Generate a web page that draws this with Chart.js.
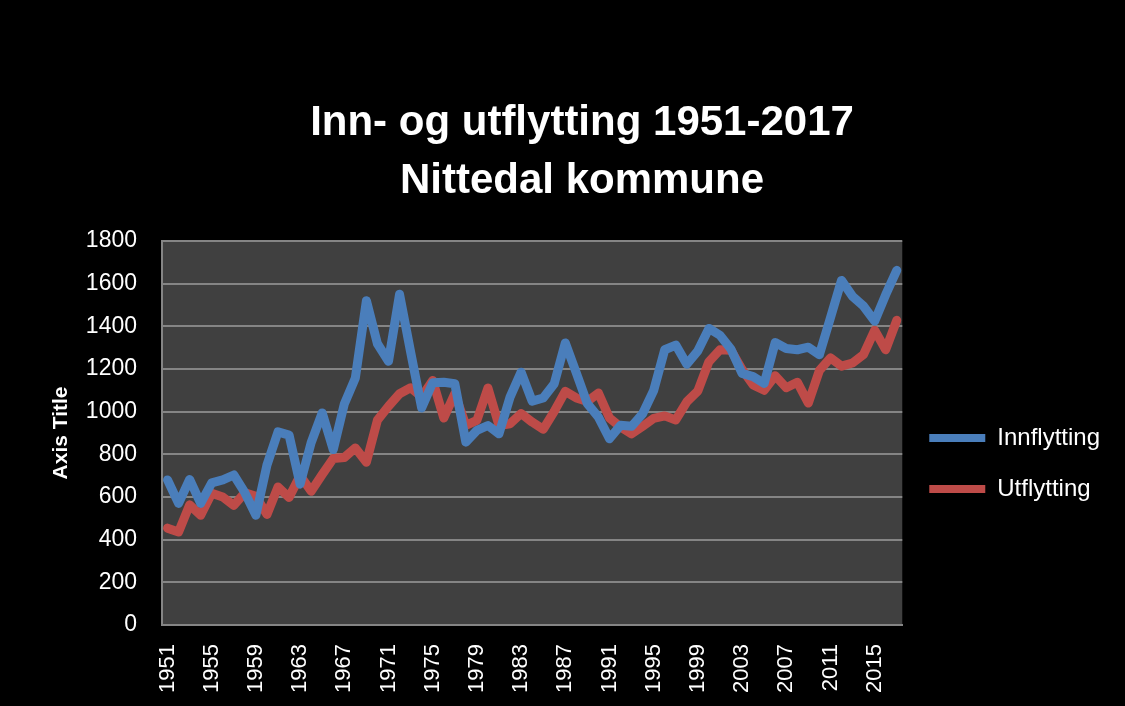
<!DOCTYPE html>
<html>
<head>
<meta charset="utf-8">
<script src="https://cdn.jsdelivr.net/npm/chart.js@4"></script>
<style>
  body { margin: 0; background: #000; }
  #wrap { width: 1125px; height: 706px; }
</style>
</head>
<body>
<div id="wrap"><canvas id="chart"></canvas></div>
<script>
const years = [];
for (let y = 1951; y <= 2017; y++) years.push(String(y));

const tickYears = ["1951", "1955", "1959", "1963", "1967", "1971", "1975", "1979", "1983",
  "1987", "1991", "1995", "1999", "2003", "2007", "2011", "2015"];

const innflytting = [680, 570, 682, 570, 666, 680, 703, 620, 514, 750,
  905, 890, 660, 855, 994, 822, 1036, 1158, 1520, 1318,
  1236, 1550, 1280, 1017, 1135, 1138, 1131, 857, 912, 935,
  896, 1068, 1185, 1049, 1064, 1131, 1322, 1181, 1037, 974,
  873, 936, 931, 990, 1099, 1290, 1312, 1222, 1285, 1390,
  1358, 1292, 1179, 1164, 1132, 1324, 1296, 1290, 1302, 1267,
  1440, 1615, 1540, 1494, 1424, 1548, 1662];

const utflytting = [454, 436, 563, 514, 617, 600, 561, 620, 603, 518,
  647, 598, 700, 627, 705, 780, 785, 830, 763, 960,
  1025, 1084, 1112, 1070, 1146, 970, 1084, 936, 959, 1111,
  935, 943, 991, 951, 917, 1001, 1095, 1064, 1048, 1087,
  970, 928, 896, 931, 968, 980, 961, 1046, 1097, 1234,
  1290, 1288, 1198, 1125, 1100, 1168, 1112, 1138, 1040, 1193,
  1252, 1213, 1228, 1268, 1381, 1290, 1428];

const blue = "#4a7ebb";
const red = "#be4b48";
const gridColor = "#858585";

Chart.defaults.font.family = "'Liberation Sans', Arial, sans-serif";
Chart.defaults.color = "#fff";

// dark grey plot area
const plotBg = {
  id: "plotBg",
  beforeDraw(chart) {
    const { ctx, chartArea: a } = chart;
    ctx.save();
    ctx.fillStyle = "#404040";
    ctx.fillRect(a.left, a.top, a.right - a.left, a.bottom - a.top);
    ctx.restore();
  }
};

new Chart(document.getElementById("chart"), {
  type: "line",
  data: {
    labels: years,
    datasets: [
      { label: "Innflytting", data: innflytting, borderColor: blue, backgroundColor: blue },
      { label: "Utflytting", data: utflytting, borderColor: red, backgroundColor: red }
    ]
  },
  options: {
    responsive: true,
    maintainAspectRatio: false,
    animation: false,
    layout: { padding: { left: 54, right: 15, top: 0, bottom: 6 } },
    elements: {
      line: { borderWidth: 9, tension: 0, borderJoinStyle: "round", borderCapStyle: "round" },
      point: { radius: 0 }
    },
    plugins: {
      title: {
        display: true,
        text: ["Inn- og utflytting 1951-2017", "Nittedal kommune"],
        color: "#fff",
        font: { size: 42, weight: "bold", lineHeight: 1.38 },
        padding: { top: 94, bottom: 31 }
      },
      legend: {
        position: "right",
        fullSize: false,
        title: { display: true, text: " ", font: { size: 10 }, padding: 24.5 },
        labels: {
          color: "#fff",
          font: { size: 24 },
          boxWidth: 56,
          boxHeight: 8,
          padding: 27,
          useBorderRadius: true,
          borderRadius: 4,
          generateLabels(chart) {
            return chart.data.datasets.map((d, i) => ({
              text: d.label,
              fillStyle: d.borderColor,
              strokeStyle: d.borderColor,
              lineWidth: 0,
              fontColor: "#fff",
              datasetIndex: i,
              hidden: false
            }));
          }
        }
      },
      tooltip: { enabled: false }
    },
    scales: {
      x: {
        offset: true,
        grid: { display: false },
        border: { display: true, color: gridColor, width: 2 },
        ticks: {
          autoSkip: false,
          minRotation: 90,
          maxRotation: 90,
          padding: 11,
          font: { size: 22 },
          color: "#fff",
          callback(v, i) {
            const lab = years[i];
            return tickYears.includes(lab) ? lab : "";
          }
        },
        afterFit(s) { s.height = 75; }
      },
      y: {
        min: 0,
        max: 1800,
        ticks: {
          stepSize: 200, padding: 25, font: { size: 23 }, color: "#fff",
          callback: v => String(v)
        },
        grid: { color: gridColor, lineWidth: 2, drawTicks: false },
        border: { display: true, color: gridColor, width: 2 },
        title: {
          display: true,
          text: "Axis Title",
          color: "#fff",
          font: { size: 21, weight: "bold" },
          padding: { top: -5, bottom: 0 }
        },
        afterFit(s) { s.width = 108; }
      }
    }
  },
  plugins: [plotBg]
});
</script>
</body>
</html>
